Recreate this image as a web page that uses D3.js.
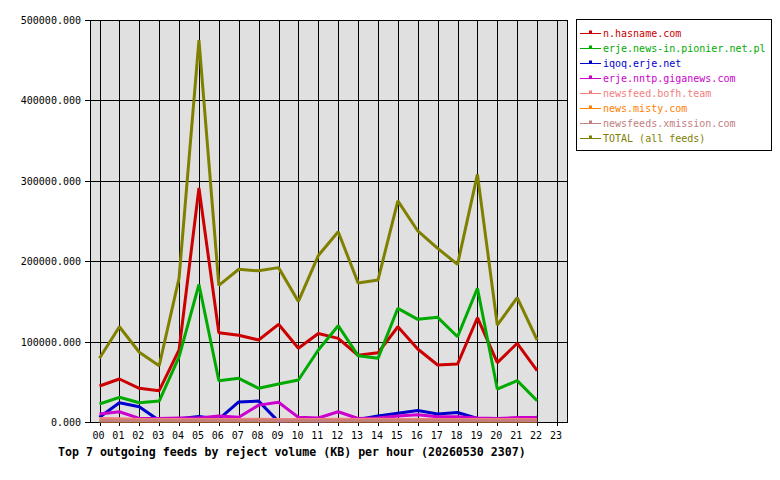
<!DOCTYPE html>
<html>
<head>
<meta charset="utf-8">
<script src="https://cdn.jsdelivr.net/npm/d3@7"></script>
<style>
  body { margin: 0; background: #fff; }
  text { font-family: "DejaVu Sans Mono", monospace; }
</style>
</head>
<body>
<div id="chart"></div>
<script>
var hours = ["00","01","02","03","04","05","06","07","08","09","10","11","12","13","14","15","16","17","18","19","20","21","22","23"]
var yTicks = [0, 100000, 200000, 300000, 400000, 500000]

var feedNames = ["n.hasname.com", "erje.news-in.pionier.net.pl", "iqoq.erje.net", "erje.nntp.giganews.com",
                 "newsfeed.bofh.team", "news.misty.com", "newsfeeds.xmission.com", "TOTAL (all feeds)"]
var feedColors = ["#cc0000", "#00aa00", "#0000cc", "#cc00cc", "#f08080", "#ff8000", "#c08080", "#808000"]

// values per hour 00..22 (KB)
var hasname   = [44800, 53500, 41900, 39000, 89600, 291000, 111000, 108000, 102000, 121500, 91700, 110000, 104000, 83000, 86000, 118500, 90800, 70900, 72000, 129700, 73800, 97900, 63800]
var pionier   = [22400, 30700, 24000, 26000, 81000, 171000, 51400, 54300, 41900, 47300, 52200, 89600, 119800, 82500, 79200, 141400, 127700, 130200, 106000, 166300, 41000, 51400, 26500]
var iqoq      = [6000, 24000, 19000, 2000, 4000, 7000, 3500, 25000, 26000, 500, 2000, 1000, 2000, 3000, 7500, 11000, 14300, 10000, 11800, 4300, 2000, 2500, 6000]
var giganews  = [10000, 12800, 4500, 4300, 5000, 5000, 7500, 5800, 21000, 24500, 5800, 5000, 12800, 4300, 5000, 7500, 9000, 6500, 6500, 5000, 4300, 5500, 5500]
var bofh      = [4500, 4000, 3000, 3000, 3000, 3000, 3000, 3000, 3500, 3000, 3000, 3000, 3500, 3000, 3500, 3000, 3000, 3000, 3000, 3000, 3000, 3000, 3000]
var misty     = [1200, 1200, 1200, 1200, 1200, 1200, 1200, 1200, 1200, 1200, 1200, 1200, 1200, 1200, 1200, 1200, 1200, 1200, 1200, 1200, 1200, 1200, 1200]
var xmission  = [1500, 1500, 1500, 1500, 1500, 1500, 1500, 1500, 1500, 1500, 1500, 1500, 1500, 1500, 1500, 1500, 1500, 1500, 1500, 1500, 1500, 1500, 1500]
var total     = [79200, 118500, 86700, 70000, 179000, 475000, 170000, 190000, 188000, 192000, 150000, 207000, 236700, 173000, 176600, 275000, 237600, 216000, 196000, 308000, 120600, 154600, 102000]

var seriesValues = [hasname, pionier, iqoq, giganews, bofh, misty, xmission, total]

var outerWidth = 780, outerHeight = 480
var plot = {left: 90, right: 567, top: 20, bottom: 422}

var svg = d3.select("#chart").append("svg")
            .attr("width", outerWidth)
            .attr("height", outerHeight)

var xScale = d3.scalePoint().domain(hours).range([99.5, 557]),
    yScale = d3.scaleLinear().domain([0, 500000]).range([plot.bottom, plot.top]);

// plot background
svg.append("rect")
    .attr("x", plot.left)
    .attr("y", plot.top)
    .attr("width", plot.right - plot.left)
    .attr("height", plot.bottom - plot.top)
    .attr("fill", "#e0e0e0")

// grid
svg.selectAll(".vgrid")
    .data(hours)
    .enter()
    .append("line")
    .attr("x1", function(d){ return Math.round(xScale(d)) + 0.5 })
    .attr("x2", function(d){ return Math.round(xScale(d)) + 0.5 })
    .attr("y1", plot.top)
    .attr("y2", plot.bottom + 4)
    .style("stroke", "#000")
    .style("shape-rendering", "crispEdges")

svg.selectAll(".hgrid")
    .data(yTicks)
    .enter()
    .append("line")
    .attr("x1", plot.left - 5)
    .attr("x2", plot.right)
    .attr("y1", function(d){ return Math.round(yScale(d)) + 0.5 })
    .attr("y2", function(d){ return Math.round(yScale(d)) + 0.5 })
    .style("stroke", "#000")
    .style("shape-rendering", "crispEdges")

// frame
svg.append("rect")
    .attr("x", plot.left + 0.5)
    .attr("y", plot.top + 0.5)
    .attr("width", plot.right - plot.left)
    .attr("height", plot.bottom - plot.top)
    .attr("fill", "none")
    .style("stroke", "#000")
    .style("stroke-width", 1.5)
    .style("shape-rendering", "crispEdges")

// y labels
svg.selectAll(".ylab")
    .data(yTicks)
    .enter()
    .append("text")
    .attr("x", 81)
    .attr("y", function(d){ return yScale(d) + 4 })
    .attr("text-anchor", "end")
    .attr("font-size", "10px")
    .text(function(d){ return d3.format(".3f")(d) })

// x labels
svg.selectAll(".xlab")
    .data(hours)
    .enter()
    .append("text")
    .attr("x", function(d){ return xScale(d) - 1 })
    .attr("y", 439)
    .attr("text-anchor", "middle")
    .attr("font-size", "10px")
    .text(function(d){ return d })

// lines
var line = d3.line()
    .x(function(d, i){ return xScale(hours[i]) })
    .y(function(d){ return yScale(d) })

seriesValues.forEach(function(vals, k) {
    svg.append("path")
        .datum(vals)
        .attr("d", line)
        .attr("fill", "none")
        .style("stroke", feedColors[k])
        .style("stroke-width", 3)
        .style("stroke-linejoin", "bevel")
});

// title
svg.append("text")
    .attr("x", 58)
    .attr("y", 456)
    .attr("font-size", "11.6px")
    .attr("font-weight", "bold")
    .text("Top 7 outgoing feeds by reject volume (KB) per hour (20260530 2307)")

// legend
svg.append("rect")
    .attr("x", 576.5)
    .attr("y", 19.5)
    .attr("width", 195)
    .attr("height", 131)
    .attr("fill", "#fff")
    .style("stroke", "#000")

var legend = svg.selectAll(".legend")
    .data(feedNames)
    .enter()
    .append("g")
    .attr("transform", function(d, i){ return "translate(0," + (33.5 + i * 15) + ")" })

legend.append("line")
    .attr("x1", 580)
    .attr("x2", 601)
    .attr("y1", 0)
    .attr("y2", 0)
    .style("stroke", function(d, i){ return feedColors[i] })
    .style("stroke-width", 1)

legend.append("rect")
    .attr("x", 589.5)
    .attr("y", -2.5)
    .attr("width", 2)
    .attr("height", 2)
    .attr("fill", "none")
    .style("stroke", function(d, i){ return feedColors[i] })

legend.append("text")
    .attr("x", 603)
    .attr("y", 3.5)
    .attr("font-size", "10px")
    .attr("fill", function(d, i){ return feedColors[i] })
    .text(function(d){ return d })
</script>
</body>
</html>
